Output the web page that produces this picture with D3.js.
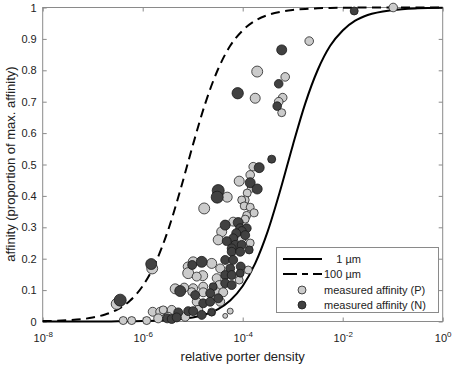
<!DOCTYPE html>
<html>
<head>
<meta charset="utf-8">
<script src="https://cdn.jsdelivr.net/npm/d3@7"></script>
<style>
	body { margin: 0; background: #fff; }
	svg text { font-family: "Liberation Sans", Arial, sans-serif; fill: #222; }
</style>
</head>
<body>
<div id="chart"></div>
<script>
// model curves: log10(relative porter density) -> affinity
var curveExp = [-8, -7.5, -7, -6.75, -6.5, -6.25, -6, -5.75, -5.5, -5.25, -5, -4.75, -4.5, -4.25,
	-4, -3.75, -3.5, -3.25, -3, -2.75, -2.5, -2.25, -2, -1.75, -1.5, -1, -0.5, 0];
var affinity1um = [0.00001, 0.00004, 0.00013, 0.00022, 0.0004, 0.0007, 0.0013, 0.0022, 0.004, 0.0071,
	0.0126, 0.0223, 0.0387, 0.0668, 0.113, 0.185, 0.287, 0.417, 0.560, 0.694, 0.801, 0.878, 0.927,
	0.958, 0.976, 0.992, 0.9975, 0.9992];
var affinity100um = [0.0013, 0.004, 0.0126, 0.0223, 0.0387, 0.0668, 0.113, 0.185, 0.287, 0.417,
	0.560, 0.694, 0.801, 0.878, 0.927, 0.958, 0.976, 0.986, 0.992, 0.9956, 0.9975, 0.9986, 0.9992,
	0.9996, 0.9998, 0.9999, 1, 1];

// measured affinity (P)
var pExp = [-0.99, -2.67, -3.71, -3.15, -3.75, -3.20, -3.28, -3.22, -3.79, -3.85, -4.07, -3.83, -3.91,
	-4.31, -3.95, -4.02, -4.77, -3.97, -3.85, -3.77, -3.92, -3.95, -4.19, -4.42, -3.85, -4.02, -4.49,
	-4.99, -4.62, -5.10, -4.45, -3.89, -5.09, -4.80, -4.92, -4.52, -4.07, -4.47, -5.35, -5.17, -4.99,
	-4.79, -5.02, -4.79, -4.52, -4.39, -4.92, -4.45, -5.42, -4.89, -5.15, -4.25, -4.35, -5.81, -6.52,
	-6.39, -6.22, -5.92, -5.80, -5.65, -5.69, -5.49, -5.59, -4.62];
var pAff = [1.0, 0.893, 0.796, 0.779, 0.711, 0.713, 0.700, 0.665, 0.493, 0.467, 0.447, 0.424, 0.409,
	0.396, 0.387, 0.387, 0.360, 0.368, 0.364, 0.346, 0.338, 0.326, 0.318, 0.286, 0.25, 0.265, 0.26,
	0.190, 0.185, 0.175, 0.169, 0.164, 0.154, 0.146, 0.143, 0.138, 0.132, 0.116, 0.104, 0.108, 0.106,
	0.111, 0.095, 0.093, 0.093, 0.093, 0.063, 0.063, 0.037, 0.037, 0.015, 0.033, 0.018, 0.169, 0.056,
	0.003, 0.003, 0.003, 0.031, 0.031, 0.010, 0.015, 0.037, 0.030];
var pSize = [18.5, 18.5, 30, 18.5, 25, 18.5, 18.5, 16, 18.5, 18.5, 25, 16, 16, 25, 16, 16, 30, 16, 16,
	16, 16, 16, 20, 25, 16, 20, 25, 25, 25, 20, 20, 16, 30, 25, 20, 20, 16, 20, 25, 20, 20, 20, 16, 20,
	20, 20, 20, 20, 20, 20, 20, 9, 6, 30, 30, 16, 16, 16, 20, 20, 20, 20, 16, 16];

// measured affinity (N)
var nExp = [-1.77, -3.22, -3.28, -4.10, -3.31, -3.42, -3.67, -3.85, -3.71, -4.49, -4.51, -4.35, -4.09,
	-4.05, -3.92, -4.02, -4.13, -3.95, -4.19, -4.15, -4.02, -4.22, -3.87, -4.22, -4.05, -4.82, -4.35,
	-4.19, -4.04, -4.25, -4.35, -4.22, -4.05, -4.35, -4.22, -5.25, -4.59, -4.95, -4.65, -4.79, -4.65,
	-4.49, -5.29, -5.09, -4.99, -4.82, -4.62, -5.83, -6.45, -5.01, -5.51, -5.42, -5.32, -4.32];
var nAff = [0.989, 0.865, 0.757, 0.727, 0.686, 0.517, 0.490, 0.442, 0.422, 0.417, 0.396, 0.307, 0.315,
	0.297, 0.297, 0.288, 0.281, 0.275, 0.265, 0.244, 0.244, 0.233, 0.228, 0.222, 0.222, 0.190, 0.196,
	0.196, 0.175, 0.169, 0.148, 0.148, 0.154, 0.122, 0.116, 0.097, 0.111, 0.084, 0.090, 0.058, 0.063,
	0.074, 0.029, 0.033, 0.033, 0.021, 0.029, 0.183, 0.068, 0.180, 0.010, 0.008, 0.013, 0.256];
var nSize = [16, 25, 18.5, 32, 18.5, 16, 25, 25, 25, 36, 36, 25, 25, 20, 20, 20, 20, 20, 20, 20, 20,
	20, 16, 20, 20, 30, 20, 20, 20, 20, 20, 20, 16, 20, 20, 30, 16, 20, 20, 20, 20, 20, 20, 20, 20, 20,
	12, 30, 36, 20, 20, 20, 20, 20];

var xTickExp = [-8, -6, -4, -2, 0];
var yTicks = [0, 0.1, 0.2, 0.3, 0.4, 0.5, 0.6, 0.7, 0.8, 0.9, 1];
var legendLabels = ["    1 \u00b5m", "100 \u00b5m", "measured affinity (P)", "measured affinity (N)"];

function init(){
	var w = 454;
	var h = 366;
	var left = 42.7, right = 442.7, top = 7.5, bottom = 321.5;
	var axisColor = "#8a8a8a";

	var x = d3.scaleLog()
				.domain([1e-8, 1])
				.range([left, right]);
	var y = d3.scaleLinear()
				.domain([0, 1])
				.range([bottom, top]);
	var r = d3.scaleSqrt()
				.domain([0, 36])
				.range([0, 6]);

	var svg = d3.select("#chart")
				.append("svg")
				.attr("width", w)
				.attr("height", h);

	var xTicks = xTickExp.map(function(e){ return Math.pow(10, e); });

	//axes, ticks pointing inwards on all four sides
	var gx = svg.append("g")
		.attr("transform", "translate(0," + bottom + ")")
		.call(d3.axisBottom(x).tickValues(xTicks).tickSizeInner(-4).tickSizeOuter(0).tickPadding(12.5));
	gx.selectAll(".tick text").each(function(d, i){
		var t = d3.select(this).text("");
		t.append("tspan").text("10");
		t.append("tspan").attr("dy", "-5").style("font-size", "8px").text(xTickExp[i]);
	});
	svg.append("g")
		.attr("transform", "translate(0," + top + ")")
		.call(d3.axisTop(x).tickValues(xTicks).tickSizeInner(-4).tickSizeOuter(0).tickFormat(""));
	svg.append("g")
		.attr("transform", "translate(" + left + ",0)")
		.call(d3.axisLeft(y).tickValues(yTicks).tickSizeInner(-4).tickSizeOuter(0).tickPadding(6)
			.tickFormat(function(d){ return String(d); }));
	svg.append("g")
		.attr("transform", "translate(" + right + ",0)")
		.call(d3.axisRight(y).tickValues(yTicks).tickSizeInner(-4).tickSizeOuter(0).tickFormat(""));

	svg.selectAll(".domain").remove();
	svg.selectAll(".tick line").attr("stroke", axisColor);
	svg.selectAll(".tick text").attr("fill", "#222").style("font-size", "11px")
		.style("font-family", "'Liberation Sans', Arial, sans-serif");

	svg.append("rect")
		.attr("x", left).attr("y", top)
		.attr("width", right - left).attr("height", bottom - top)
		.attr("fill", "none")
		.attr("stroke", axisColor);

	//model curves
	var line = d3.line()
		.x(function(d){ return x(Math.pow(10, d[0])); })
		.y(function(d){ return y(d[1]); })
		.curve(d3.curveMonotoneX);

	svg.append("path")
		.datum(curveExp.map(function(e, i){ return [e, affinity1um[i]]; }))
		.attr("d", line)
		.attr("fill", "none")
		.attr("stroke", "#000")
		.attr("stroke-width", 2);
	svg.append("path")
		.datum(curveExp.map(function(e, i){ return [e, affinity100um[i]]; }))
		.attr("d", line)
		.attr("fill", "none")
		.attr("stroke", "#000")
		.attr("stroke-width", 2)
		.attr("stroke-dasharray", "9,5.5");

	//measured points
	var pData = pExp.map(function(e, i){ return {e: e, a: pAff[i], s: pSize[i]}; });
	var nData = nExp.map(function(e, i){ return {e: e, a: nAff[i], s: nSize[i]}; });

	svg.append("g").selectAll("circle")
		.data(pData)
		.enter()
		.append("circle")
		.attr("cx", function(d){ return x(Math.pow(10, d.e)); })
		.attr("cy", function(d){ return y(d.a); })
		.attr("r", function(d){ return r(d.s); })
		.style("fill", "#cbcbcb")
		.style("stroke", "#222")
		.style("stroke-width", 0.8);
	svg.append("g").selectAll("circle")
		.data(nData)
		.enter()
		.append("circle")
		.attr("cx", function(d){ return x(Math.pow(10, d.e)); })
		.attr("cy", function(d){ return y(d.a); })
		.attr("r", function(d){ return r(d.s); })
		.style("fill", "#414141")
		.style("stroke", "#1a1a1a")
		.style("stroke-width", 0.8);

	//axis labels
	svg.append("text")
		.attr("x", (left + right) / 2)
		.attr("y", 361)
		.attr("text-anchor", "middle")
		.style("font-size", "13px")
		.text("relative porter density");
	svg.append("text")
		.attr("transform", "translate(15,164) rotate(-90)")
		.attr("text-anchor", "middle")
		.style("font-size", "13px")
		.text("affinity (proportion of max. affinity)");

	//legend
	var lg = svg.append("g");
	lg.append("rect")
		.attr("x", 276.5).attr("y", 247.5)
		.attr("width", 162).attr("height", 65)
		.attr("fill", "#fff")
		.attr("stroke", axisColor);
	var rows = [259, 274, 290, 305];
	lg.append("line").attr("x1", 283).attr("x2", 322).attr("y1", rows[0]).attr("y2", rows[0])
		.attr("stroke", "#000").attr("stroke-width", 2);
	lg.append("line").attr("x1", 283).attr("x2", 322).attr("y1", rows[1]).attr("y2", rows[1])
		.attr("stroke", "#000").attr("stroke-width", 2).attr("stroke-dasharray", "14,5,6,5");
	lg.append("circle").attr("cx", 302).attr("cy", rows[2]).attr("r", 4)
		.style("fill", "#cbcbcb").style("stroke", "#222").style("stroke-width", 0.8);
	lg.append("circle").attr("cx", 302).attr("cy", rows[3]).attr("r", 4)
		.style("fill", "#414141").style("stroke", "#1a1a1a").style("stroke-width", 0.8);
	lg.selectAll("text.lab")
		.data(legendLabels)
		.enter()
		.append("text")
		.attr("class", "lab")
		.attr("x", 324)
		.attr("y", function(d, i){ return rows[i] + 4; })
		.style("font-size", "11px")
		.style("white-space", "pre")
		.text(function(d){ return d; });
}

window.onload = init;
</script>
</body>
</html>
